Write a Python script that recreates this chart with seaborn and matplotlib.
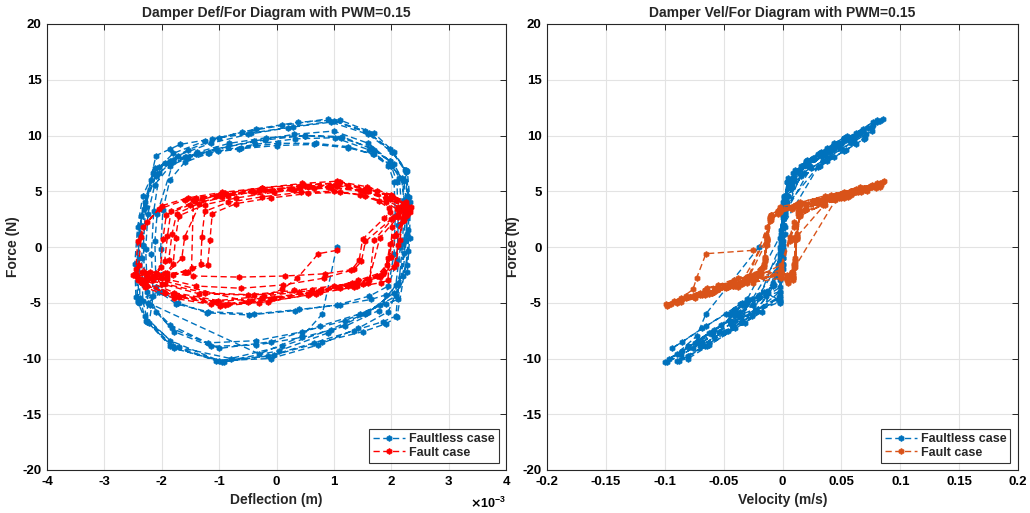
import numpy as np
import pandas as pd
import matplotlib
matplotlib.use("Agg")
import matplotlib.pyplot as plt
import seaborn as sns
from matplotlib.ticker import FuncFormatter, MultipleLocator

# ---------------- data ----------------
# Faultless case: deflection (x1e-3 m), velocity (m/s), force (N)
defl_faultless = [1.05, 0.80, 0.45, -0.30,
    -2.45, -2.47, -2.42, -2.33, -2.15, -1.80, -1.25, -0.60, 0.10, 0.90, 1.55, 1.98, 2.25, 2.31, 2.30, 2.27, 2.05, 1.55, 0.90, 0.05, -0.95, -1.85, -2.30,
    -2.38, -2.40, -2.36, -2.12, -1.85, -1.60, -1.05, -0.40, 0.30, 1.00, 1.60, 1.98, 2.18, 2.22, 2.20, 2.08, 1.85, 1.35, 0.65, -0.15, -1.05, -1.85, -2.25,
    -2.25, -2.28, -2.24, -2.12, -1.85, -1.40, -0.85, -0.20, 0.50, 1.15, 1.70, 2.05, 2.20, 2.24, 2.22, 2.12, 1.80, 1.20, 0.45, -0.35, -1.20, -1.85, -2.20,
    -2.10, -2.12, -2.08, -1.80, -1.55, -1.20, -0.65, 0.00, 0.65, 1.25, 1.70, 2.00, 2.10, 2.12, 2.10, 1.90, 1.65, 1.10, 0.40, -0.40, -1.20, -1.75, -2.05,
    -2.42, -2.44, -2.40, -2.30, -2.10, -1.72, -1.15, -0.50, 0.20, 0.95, 1.60, 2.02, 2.28, 2.33, 2.32, 2.28, 2.08, 1.60, 0.95, 0.10, -0.80, -1.70, -2.25,
    -2.33, -2.35, -2.31, -2.05, -1.80, -1.58, -1.02, -0.38, 0.32, 1.02, 1.62, 2.00, 2.22, 2.27, 2.26, 2.20, 1.95, 1.42, 0.72, -0.10, -1.00, -1.80, -2.22,
    -2.15, -2.18, -2.14, -2.04, -1.80, -1.38, -0.82, -0.18, 0.50, 1.12, 1.65, 1.98, 2.14, 2.18, 2.16, 2.08, 1.78, 1.20, 0.45, -0.35, -1.15, -1.78, -2.10,
    -2.30, -2.32, -2.28, -2.18, -1.95, -1.55, -1.00, -0.35, 0.38, 1.10, 1.70, 2.05, 2.24, 2.28, 2.27, 2.12, 1.90, 1.45, 0.75, -0.10, -1.00, -1.82, -2.24,
    -2.00, -2.02, -1.98, -1.86, -1.60, -1.18, -0.62, 0.02, 0.68, 1.25, 1.68, 1.95, 2.05, 2.07, 2.05, 1.95, 1.62, 1.05, 0.32, -0.48, -1.22, -1.72, -1.98,
    -2.40, -2.42, -2.38, -2.10, -1.85, -1.68, -1.12, -0.45, 0.28, 1.00, 1.62, 2.02, 2.26, 2.30, 2.29, 2.10, 1.90, 1.50, 0.80, -0.05, -0.92, -1.78, -2.28,
    -2.42]
vel_faultless = [-0.020, -0.065, -0.073, -0.090,
    -0.003, 0.000, 0.002, 0.005, 0.018, 0.035, 0.052, 0.066, 0.077, 0.085, 0.068, 0.042, 0.014, 0.001, -0.001, -0.004, -0.012, -0.040, -0.062, -0.085, -0.100, -0.072, -0.038,
    -0.002, 0.000, 0.001, 0.024, 0.034, 0.040, 0.050, 0.061, 0.071, 0.076, 0.058, 0.034, 0.010, 0.001, -0.001, -0.026, -0.034, -0.046, -0.062, -0.080, -0.090, -0.066, -0.034,
    -0.002, 0.000, 0.002, 0.008, 0.022, 0.036, 0.047, 0.056, 0.062, 0.060, 0.042, 0.022, 0.006, 0.000, -0.002, -0.008, -0.025, -0.045, -0.060, -0.072, -0.074, -0.052, -0.025,
    -0.002, 0.000, 0.002, 0.020, 0.026, 0.032, 0.039, 0.043, 0.044, 0.040, 0.030, 0.016, 0.004, 0.000, -0.001, -0.020, -0.026, -0.034, -0.040, -0.045, -0.043, -0.032, -0.016,
    -0.002, 0.000, 0.002, 0.004, 0.016, 0.033, 0.050, 0.063, 0.073, 0.080, 0.064, 0.038, 0.012, 0.000, -0.002, -0.004, -0.014, -0.036, -0.058, -0.080, -0.096, -0.080, -0.045,
    -0.002, 0.000, 0.001, 0.030, 0.038, 0.044, 0.052, 0.062, 0.069, 0.070, 0.054, 0.032, 0.010, 0.001, -0.001, -0.005, -0.017, -0.040, -0.062, -0.080, -0.088, -0.064, -0.032,
    -0.002, 0.000, 0.002, 0.009, 0.021, 0.033, 0.044, 0.052, 0.055, 0.052, 0.038, 0.020, 0.005, 0.000, -0.002, -0.007, -0.022, -0.042, -0.058, -0.068, -0.070, -0.050, -0.024,
    -0.002, 0.000, 0.002, 0.006, 0.020, 0.038, 0.055, 0.068, 0.077, 0.080, 0.062, 0.036, 0.011, 0.001, -0.001, -0.030, -0.036, -0.048, -0.065, -0.085, -0.094, -0.068, -0.034,
    -0.002, 0.000, 0.002, 0.010, 0.022, 0.034, 0.042, 0.047, 0.048, 0.043, 0.032, 0.017, 0.004, 0.000, -0.002, -0.008, -0.020, -0.032, -0.040, -0.045, -0.042, -0.030, -0.014,
    -0.002, 0.000, 0.001, 0.036, 0.044, 0.050, 0.058, 0.066, 0.076, 0.083, 0.066, 0.040, 0.013, 0.001, -0.001, -0.035, -0.044, -0.054, -0.068, -0.086, -0.098, -0.076, -0.040,
    -0.002]
force_faultless = [0.0, -6.0, -8.0, -9.6,
    -4.5, -1.5, 1.8, 4.6, 6.6, 8.4, 9.5, 10.3, 10.9, 11.5, 10.4, 8.8, 6.9, 4.5, 1.5, -1.6, -4.1, -6.0, -7.7, -9.3, -10.3, -8.4, -6.2,
    -4.6, -1.0, 2.8, 7.1, 7.7, 8.1, 8.8, 9.5, 10.1, 10.4, 9.3, 7.7, 6.2, 4.2, 0.4, -6.2, -6.7, -7.5, -8.6, -9.8, -10.2, -8.9, -6.7,
    -4.0, -0.2, 3.0, 5.6, 7.3, 8.3, 9.0, 9.6, 10.0, 9.9, 8.7, 7.4, 6.0, 3.0, -0.5, -3.2, -5.2, -6.6, -7.6, -8.4, -8.6, -7.0, -5.2,
    -3.6, 0.5, 3.0, 7.6, 8.0, 8.4, 8.8, 9.1, 9.2, 8.9, 8.3, 7.3, 5.8, 2.0, -1.2, -4.3, -4.7, -5.2, -5.6, -6.0, -5.8, -5.1, -4.0,
    -4.8, -2.0, 1.2, 4.0, 6.4, 8.2, 9.3, 10.1, 10.7, 11.2, 10.1, 8.5, 6.8, 4.0, 0.8, -2.2, -4.4, -5.8, -7.4, -8.9, -10.0, -9.0, -6.6,
    -4.8, -1.0, 3.4, 7.2, 7.7, 8.1, 8.6, 9.2, 9.7, 9.8, 8.7, 7.3, 5.9, 3.8, 0.6, -2.6, -5.8, -7.3, -8.8, -10.0, -10.2, -8.9, -6.8,
    -4.4, -0.6, 3.2, 6.6, 7.8, 8.5, 9.3, 9.8, 10.0, 9.8, 8.9, 7.7, 6.2, 3.6, 0.0, -3.4, -5.7, -7.1, -8.1, -8.8, -8.9, -7.6, -5.8,
    -3.0, 0.2, 3.6, 6.0, 7.5, 8.7, 9.8, 10.6, 11.2, 11.4, 10.2, 8.5, 6.9, 4.6, 1.2, -4.7, -5.1, -6.0, -7.1, -8.5, -9.1, -7.3, -5.0,
    -4.0, -0.2, 3.3, 6.0, 7.6, 8.4, 8.9, 9.3, 9.3, 9.0, 8.3, 7.3, 5.8, 2.8, -0.6, -3.5, -4.4, -5.2, -5.7, -6.1, -5.9, -5.0, -4.0,
    -5.0, -1.6, 2.0, 8.2, 8.8, 9.2, 9.7, 10.2, 10.8, 11.3, 10.2, 8.5, 6.7, 3.3, -0.4, -6.3, -6.9, -7.6, -8.5, -9.7, -10.3, -9.1, -6.6,
    -4.9]

# Fault case
defl_fault = [1.05, 0.73, 0.36, 0.10, -0.50,
    -2.47, -2.40, -2.15, -1.88, -1.82, -1.74, -1.35, -0.85, -0.20, 0.50, 1.10, 1.60, 2.00, 2.25, 2.33, 2.25, 2.05, 1.95, 1.85, 1.40, 0.75, -0.10, -0.90, -1.70, -2.25,
    -2.45, -2.42, -2.32, -2.05, -1.60, -1.00, -0.30, 0.40, 1.05, 1.60, 2.00, 2.22, 2.28, 2.20, 2.12, 2.05, 1.80, 1.30, 0.60, -0.25, -1.05, -1.80, -2.30,
    -2.20, -2.05, -1.60, -1.20, -1.16, -1.12, -0.70, -0.10, 0.55, 1.10, 1.55, 1.90, 2.10, 2.12, 2.00, 1.55, 1.48, 1.35, 0.85, 0.15, -0.65, -1.45, -1.95,
    -2.35, -2.25, -1.90, -1.65, -1.60, -1.30, -1.05, -0.45, 0.25, 0.90, 1.45, 1.90, 2.18, 2.22, 2.12, 1.80, 1.60, 1.40, 1.10, 0.40, -0.40, -1.25, -1.95,
    -2.42, -2.30, -2.00, -1.80, -1.76, -1.70, -1.25, -0.70, -0.05, 0.65, 1.25, 1.75, 2.10, 2.30, 2.32, 2.20, 1.98, 1.92, 1.75, 1.25, 0.55, -0.30, -1.15, -1.95, -2.35,
    -2.30, -2.15, -1.80, -1.48, -1.45, -1.40, -0.98, -0.40, 0.30, 0.95, 1.50, 1.90, 2.12, 2.16, 2.05, 1.70, 1.62, 1.50, 1.00, 0.30, -0.50, -1.35, -2.00,
    -2.40, -2.36, -2.26, -2.00, -1.55, -0.95, -0.25, 0.45, 1.08, 1.62, 2.02, 2.24, 2.30, 2.22, 2.15, 2.08, 1.82, 1.32, 0.62, -0.22, -1.02, -1.78, -2.28,
    -2.45, -2.35, -2.15, -2.02, -1.98, -1.92, -1.50, -0.95, -0.30, 0.40, 1.02, 1.55, 1.98, 2.24, 2.30, 2.22, 2.02, 1.94, 1.82, 1.35, 0.68, -0.15, -0.98, -1.78, -2.30,
    -2.10, -1.90, -1.55, -1.32, -1.30, -1.25, -0.85, -0.25, 0.42, 1.00, 1.45, 1.78, 1.96, 1.98, 1.88, 1.50, 1.44, 1.30, 0.82, 0.12, -0.62, -1.40, -1.90,
    -2.50, -2.42, -2.18, -1.95, -1.90, -1.84, -1.42, -0.90, -0.25, 0.45, 1.05, 1.58, 2.00, 2.26, 2.35, 2.28, 2.08, 2.00, 1.88, 1.42, 0.78, -0.05, -0.85, -1.72, -2.30]
vel_fault = [-0.025, -0.065, -0.073, -0.076, -0.090,
    -0.002, 0.004, 0.009, 0.011, 0.012, 0.015, 0.035, 0.055, 0.070, 0.082, 0.085, 0.065, 0.040, 0.015, -0.002, -0.010, -0.014, -0.015, -0.018, -0.040, -0.065, -0.085, -0.097, -0.075, -0.040,
    -0.001, 0.006, 0.010, 0.020, 0.036, 0.052, 0.066, 0.076, 0.078, 0.060, 0.035, 0.012, -0.002, -0.010, -0.013, -0.016, -0.025, -0.045, -0.066, -0.082, -0.090, -0.068, -0.030,
    -0.001, 0.004, 0.008, 0.010, 0.011, 0.013, 0.030, 0.048, 0.060, 0.062, 0.048, 0.028, 0.008, -0.004, -0.011, -0.013, -0.015, -0.018, -0.022, -0.028, -0.030, -0.028, -0.020,
    -0.001, 0.005, 0.009, 0.011, 0.012, 0.040, 0.048, 0.060, 0.070, 0.075, 0.062, 0.036, 0.012, -0.002, -0.010, -0.013, -0.035, -0.042, -0.048, -0.058, -0.066, -0.060, -0.035,
    -0.001, 0.005, 0.009, 0.011, 0.012, 0.015, 0.034, 0.052, 0.067, 0.079, 0.080, 0.058, 0.030, 0.008, -0.003, -0.011, -0.014, -0.016, -0.022, -0.045, -0.070, -0.090, -0.095, -0.060, -0.025,
    -0.001, 0.005, 0.009, 0.010, 0.045, 0.050, 0.058, 0.064, 0.068, 0.072, 0.060, 0.035, 0.010, -0.003, -0.011, -0.013, -0.030, -0.036, -0.042, -0.056, -0.068, -0.062, -0.034,
    -0.001, 0.006, 0.010, 0.020, 0.036, 0.052, 0.066, 0.076, 0.080, 0.062, 0.036, 0.012, -0.002, -0.010, -0.013, -0.016, -0.025, -0.045, -0.066, -0.082, -0.092, -0.070, -0.032,
    -0.001, 0.005, 0.009, 0.011, 0.012, 0.015, 0.036, 0.056, 0.072, 0.083, 0.084, 0.064, 0.040, 0.014, -0.002, -0.010, -0.013, -0.030, -0.036, -0.046, -0.066, -0.086, -0.098, -0.074, -0.038,
    -0.001, 0.004, 0.008, 0.010, 0.011, 0.013, 0.030, 0.046, 0.057, 0.058, 0.046, 0.026, 0.007, -0.004, -0.011, -0.013, -0.015, -0.019, -0.038, -0.055, -0.064, -0.055, -0.028,
    -0.002, 0.004, 0.009, 0.011, 0.012, 0.015, 0.035, 0.055, 0.071, 0.083, 0.086, 0.066, 0.041, 0.015, -0.002, -0.010, -0.014, -0.015, -0.018, -0.041, -0.066, -0.086, -0.099, -0.076, -0.040]
force_fault = [-0.3, -0.6, -2.8, -3.8, -4.9,
    -2.4, -2.9, -2.7, -1.2, 1.2, 3.0, 3.9, 4.6, 5.1, 5.5, 5.8, 5.2, 4.5, 3.8, 3.4, 2.8, 1.0, -1.0, -2.4, -3.2, -4.0, -4.7, -5.2, -4.5, -3.5,
    -2.0, 0.5, 1.8, 3.4, 4.2, 4.7, 5.1, 5.4, 5.5, 5.0, 4.4, 3.8, 3.2, 2.6, 0.2, -1.8, -2.7, -3.4, -4.1, -4.6, -4.9, -4.2, -3.2,
    -2.2, -2.5, -2.2, -1.6, 0.6, 3.0, 3.9, 4.4, 4.8, 4.9, 4.6, 4.0, 3.4, 3.0, 2.5, 0.5, -1.3, -2.0, -2.4, -2.6, -2.7, -2.6, -2.3,
    -2.2, -2.6, -2.3, -1.0, 0.9, 4.3, 4.6, 5.0, 5.2, 5.4, 5.1, 4.4, 3.7, 3.3, 2.7, 0.8, -3.2, -3.5, -3.7, -4.0, -4.3, -4.1, -3.3,
    -2.8, -3.1, -2.8, -1.5, 0.8, 2.8, 3.8, 4.4, 4.9, 5.3, 5.5, 5.0, 4.2, 3.6, 3.1, 2.3, 0.3, -1.6, -2.6, -3.5, -4.3, -5.0, -5.1, -4.1, -3.2,
    -2.3, -2.7, -2.5, -1.9, 4.2, 4.4, 4.7, 4.9, 5.1, 5.3, 5.0, 4.3, 3.6, 3.2, 2.7, 0.6, -3.0, -3.3, -3.5, -3.9, -4.3, -4.2, -3.3,
    -1.6, 0.9, 2.2, 3.7, 4.4, 4.9, 5.3, 5.6, 5.7, 5.2, 4.6, 3.9, 3.4, 2.9, 0.6, -1.5, -2.5, -3.2, -3.9, -4.4, -4.8, -4.1, -3.0,
    -2.6, -3.2, -3.0, -1.8, 0.7, 2.9, 3.8, 4.5, 5.0, 5.4, 5.6, 5.0, 4.3, 3.6, 3.1, 2.4, 1.8, -3.0, -3.2, -3.6, -4.2, -4.9, -5.3, -4.6, -3.6,
    -2.3, -2.6, -2.2, -1.5, 0.9, 3.2, 4.0, 4.5, 4.9, 5.0, 4.7, 4.1, 3.5, 3.1, 2.6, 0.7, -1.2, -2.1, -2.8, -3.4, -3.7, -3.5, -2.9,
    -2.5, -3.0, -2.8, -1.3, 1.0, 3.2, 4.1, 4.8, 5.3, 5.7, 5.9, 5.4, 4.7, 4.0, 3.6, 2.9, 1.1, -0.9, -2.2, -3.0, -3.9, -4.6, -5.1, -4.4, -3.4]

series_labels = ["Faultless case", "Fault case"]
titles = ["Damper Def/For Diagram with PWM=0.15", "Damper Vel/For Diagram with PWM=0.15"]
x_labels = ["Deflection (m)", "Velocity (m/s)"]
y_label = "Force (N)"

# ---------------- style ----------------
sns.set_style("white")
plt.rcParams["font.family"] = ["Liberation Sans", "DejaVu Sans"]
plt.rcParams["font.weight"] = "bold"
plt.rcParams["axes.unicode_minus"] = False
plt.rcParams["axes.titleweight"] = "bold"
plt.rcParams["axes.labelweight"] = "bold"

BLUE = "#0072BD"
RED = "#FF0000"
ORANGE = "#D95319"
AXC = "#262626"

df_faultless = pd.DataFrame({"defl": np.array(defl_faultless) * 1e-3,
                             "vel": vel_faultless, "force": force_faultless})
df_fault = pd.DataFrame({"defl": np.array(defl_fault) * 1e-3,
                         "vel": vel_fault, "force": force_fault})

fig = plt.figure(figsize=(10.30, 5.13), dpi=100)
ax1 = fig.add_axes([47 / 1030, 1 - 470 / 513, 459 / 1030, 446 / 513])
ax2 = fig.add_axes([547 / 1030, 1 - 470 / 513, 471 / 1030, 446 / 513])

line_kw = dict(sort=False, estimator=None, linestyle=(0, (4.5, 2.5)), linewidth=1.0,
               marker="h", markersize=4.2, markeredgewidth=0.5)

def draw(ax, xcol, colors):
    sns.lineplot(data=df_faultless, x=xcol, y="force", ax=ax, color=colors[0],
                 markeredgecolor=colors[0], label=series_labels[0], **line_kw)
    sns.lineplot(data=df_fault, x=xcol, y="force", ax=ax, color=colors[1],
                 markeredgecolor=colors[1], label=series_labels[1], **line_kw)

draw(ax1, "defl", [BLUE, RED])
draw(ax2, "vel", [BLUE, ORANGE])

def style_axes(ax, title, xlabel):
    ax.set_ylim(-20, 20)
    ax.yaxis.set_major_locator(MultipleLocator(5))
    ax.yaxis.set_major_formatter(FuncFormatter(lambda v, p: f"{v:g}"))
    ax.grid(True, color="#e3e3e3", linewidth=0.8)
    ax.set_axisbelow(True)
    for s in ax.spines.values():
        s.set_color(AXC)
        s.set_linewidth(0.8)
        s.set_visible(True)
    ax.tick_params(direction="in", top=True, right=True, length=4, width=0.7,
                   colors=AXC, labelsize=9.5, pad=4)
    for lab in ax.get_xticklabels() + ax.get_yticklabels():
        lab.set_fontweight("bold")
        lab.set_color("black")
    ax.set_title(title, fontsize=10, fontweight="bold", pad=5)
    ax.set_xlabel(xlabel, fontsize=10, fontweight="bold", labelpad=4)
    ax.set_ylabel(y_label, fontsize=10, fontweight="bold", labelpad=2)
    leg = ax.legend(loc="lower right", fontsize=9, frameon=True, fancybox=False,
                    edgecolor="black", borderpad=0.3, labelspacing=0.15,
                    handlelength=2.6, handletextpad=0.3, borderaxespad=0.6)
    leg.get_frame().set_linewidth(0.8)
    for t in leg.get_texts():
        t.set_fontweight("bold")

ax1.set_xlim(-4e-3, 4e-3)
ax1.xaxis.set_major_locator(MultipleLocator(1e-3))
ax1.xaxis.set_major_formatter(FuncFormatter(lambda v, p: f"{round(v * 1e3):d}"))
ax2.set_xlim(-0.2, 0.2)
ax2.xaxis.set_major_locator(MultipleLocator(0.05))
ax2.xaxis.set_major_formatter(FuncFormatter(lambda v, p: f"{round(v, 3):g}"))

style_axes(ax1, titles[0], x_labels[0])
style_axes(ax2, titles[1], x_labels[1])

ax1.text(1.0, -0.058, r"$\times\mathregular{10^{-3}}$", transform=ax1.transAxes,
         ha="right", va="top", fontsize=9, color="black")

fig.savefig("out.png", dpi=100)
